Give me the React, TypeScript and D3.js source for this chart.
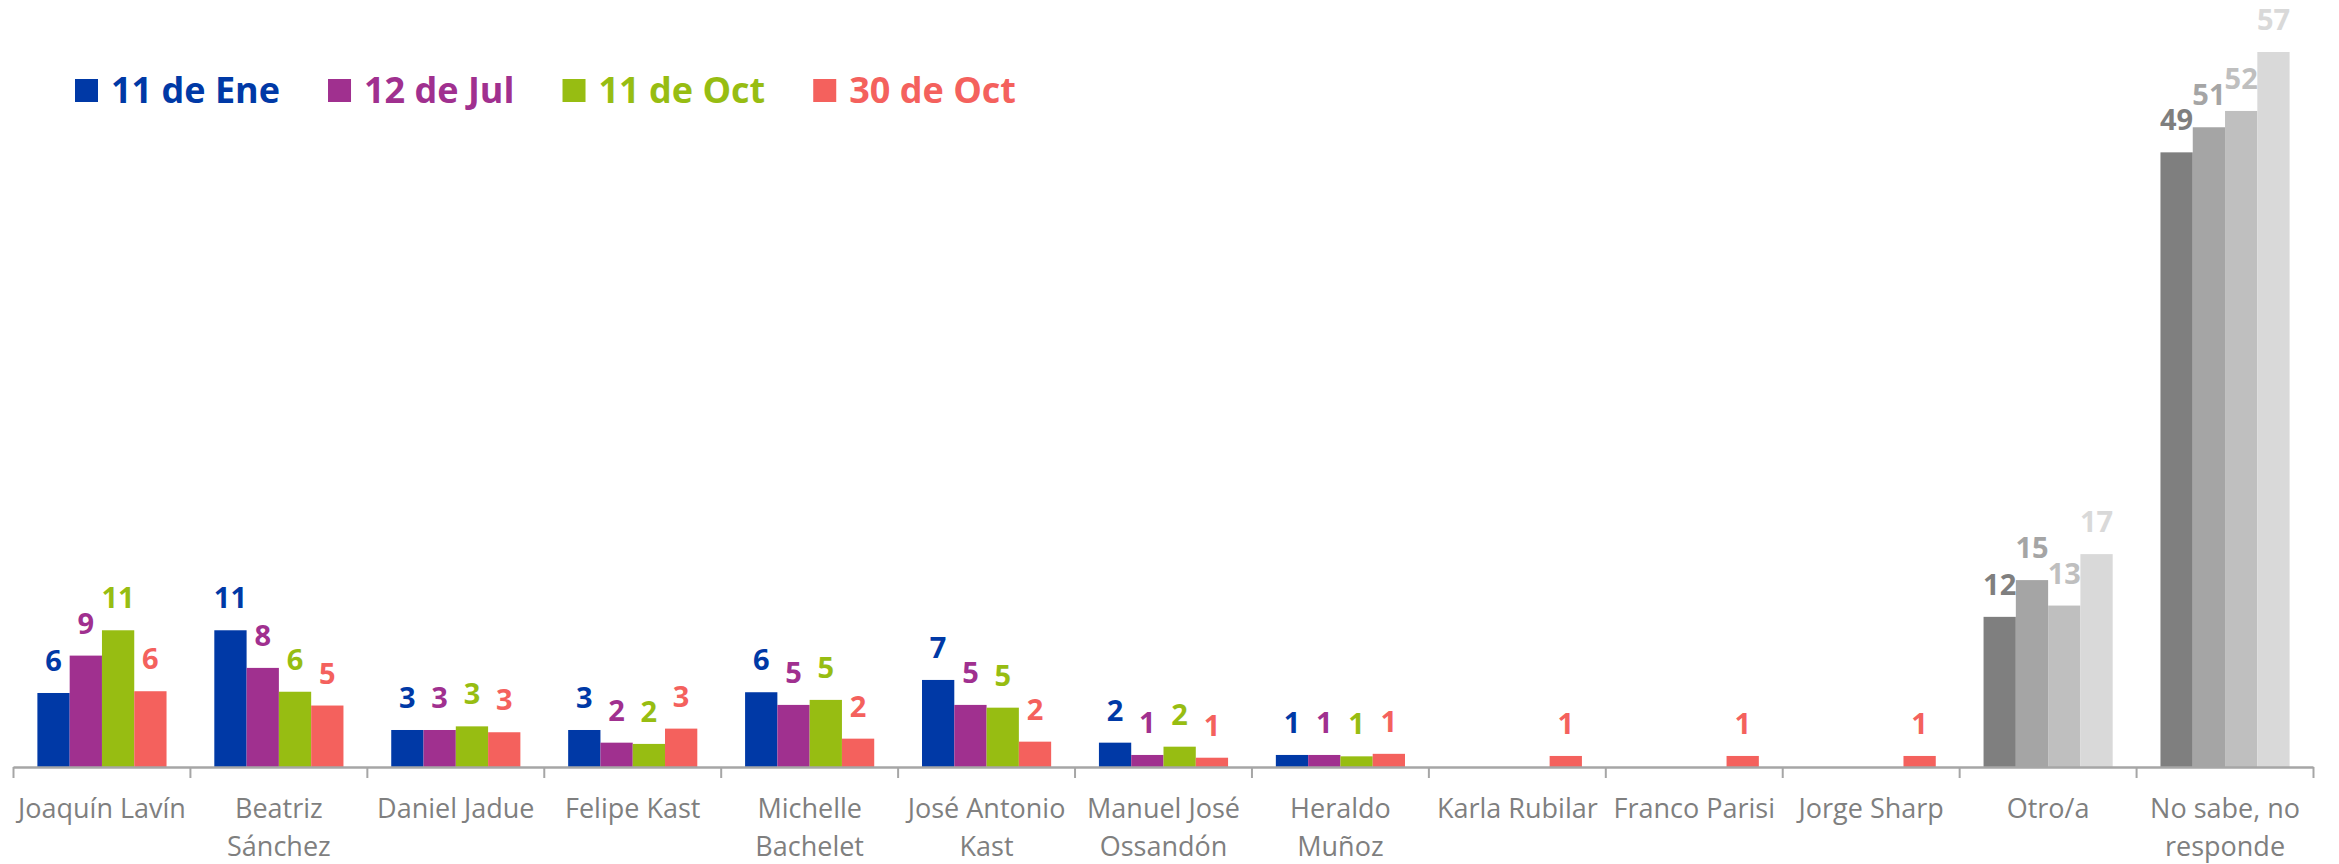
import React, { useEffect, useRef } from "react";
import * as d3 from "d3";

const categories: string[] = [
  "Joaquín Lavín",
  "Beatriz\nSánchez",
  "Daniel Jadue",
  "Felipe Kast",
  "Michelle\nBachelet",
  "José Antonio\nKast",
  "Manuel José\nOssandón",
  "Heraldo\nMuñoz",
  "Karla Rubilar",
  "Franco Parisi",
  "Jorge Sharp",
  "Otro/a",
  "No sabe, no\nresponde",
];

const seriesNames: string[] = ["11 de Ene", "12 de Jul", "11 de Oct", "30 de Oct"];

const ene11: (number | null)[] = [5.9, 10.9, 2.95, 2.95, 5.96, 6.94, 1.94, 0.96, null, null, null, 11.97, 49.0];
const jul12: (number | null)[] = [8.88, 7.9, 2.95, 1.94, 4.95, 4.95, 0.96, 0.96, null, null, null, 14.9, 51.0];
const oct11: (number | null)[] = [10.9, 6.0, 3.24, 1.84, 5.35, 4.73, 1.62, 0.85, null, null, null, 12.87, 52.3];
const oct30: (number | null)[] = [6.04, 4.9, 2.77, 3.06, 2.26, 2.02, 0.74, 1.05, 0.88, 0.88, 0.88, 16.97, 57.0];

const seriesValues = [ene11, jul12, oct11, oct30];
const seriesColors = ["#0039A6", "#A0308F", "#97BD12", "#F4615D"];
const neutralColors = ["#7F7F7F", "#A5A5A5", "#BFBFBF", "#D9D9D9"];
const neutralCategories = ["Otro/a", "No sabe, no\nresponde"];

export default function App() {
  const ref = useRef<SVGSVGElement | null>(null);

  useEffect(() => {
    const svg = d3.select(ref.current);
    svg.selectAll("*").remove();

    const W = 2339;
    const baseY = 767;
    const x0 = d3.scaleBand<string>().domain(categories).range([13.5, 2313.5]).paddingInner(0).paddingOuter(0);
    const x1 = d3
      .scaleBand<string>()
      .domain(seriesNames)
      .range([0, x0.bandwidth()])
      .paddingInner(0)
      .paddingOuter(0.74);
    const y = d3.scaleLinear().domain([0, 57]).range([baseY, 52]);
    const fmt = d3.format(".0f");

    const colorFor = (cat: string, si: number) =>
      neutralCategories.includes(cat) ? neutralColors[si] : seriesColors[si];

    // bars
    const barData: { cat: string; si: number; v: number }[] = [];
    categories.forEach((cat, ci) => {
      seriesValues.forEach((arr, si) => {
        const v = arr[ci];
        if (v !== null && v !== undefined) barData.push({ cat, si, v });
      });
    });

    svg
      .append("g")
      .selectAll("rect")
      .data(barData)
      .join("rect")
      .attr("x", (d) => (x0(d.cat) as number) + (x1(seriesNames[d.si]) as number))
      .attr("y", (d) => y(d.v))
      .attr("width", x1.bandwidth())
      .attr("height", (d) => baseY - y(d.v))
      .attr("fill", (d) => colorFor(d.cat, d.si));

    // value labels
    svg
      .append("g")
      .selectAll("text")
      .data(barData)
      .join("text")
      .attr("x", (d) => (x0(d.cat) as number) + (x1(seriesNames[d.si]) as number) + x1.bandwidth() / 2)
      .attr("y", (d) => y(d.v) - 22)
      .attr("text-anchor", "middle")
      .attr("font-family", "'Open Sans', sans-serif")
      .attr("font-weight", 700)
      .attr("font-size", 29)
      .attr("fill", (d) => colorFor(d.cat, d.si))
      .text((d) => fmt(d.v));

    // axis
    const axisG = svg.append("g");
    axisG
      .append("line")
      .attr("x1", 13.5)
      .attr("x2", 2313.5)
      .attr("y1", baseY + 0.5)
      .attr("y2", baseY + 0.5)
      .attr("stroke", "#A6A6A6")
      .attr("stroke-width", 2.5);
    const tickXs = categories.map((c) => x0(c) as number).concat([x0.range()[1]]);
    axisG
      .selectAll("line.tick")
      .data(tickXs)
      .join("line")
      .attr("class", "tick")
      .attr("x1", (d) => d)
      .attr("x2", (d) => d)
      .attr("y1", baseY)
      .attr("y2", baseY + 11)
      .attr("stroke", "#A6A6A6")
      .attr("stroke-width", 2);

    // category labels
    const labG = svg.append("g");
    categories.forEach((cat) => {
      const lines = cat.split("\n");
      const t = labG
        .append("text")
        .attr("text-anchor", "middle")
        .attr("font-family", "'Open Sans', sans-serif")
        .attr("font-size", 27)
        .attr("fill", "#7F7F7F");
      lines.forEach((ln, i) => {
        t.append("tspan")
          .attr("x", (x0(cat) as number) + x0.bandwidth() / 2)
          .attr("y", 818 + i * 38)
          .text(ln);
      });
    });

    // legend
    const legG = svg.append("g");
    let lx = 75;
    seriesNames.forEach((name, i) => {
      legG
        .append("rect")
        .attr("x", lx)
        .attr("y", 79)
        .attr("width", 23)
        .attr("height", 23)
        .attr("fill", seriesColors[i]);
      const t = legG
        .append("text")
        .attr("x", lx + 36)
        .attr("y", 102.5)
        .attr("font-family", "'Open Sans', sans-serif")
        .attr("font-weight", 700)
        .attr("font-size", 36)
        .attr("fill", seriesColors[i])
        .text(name);
      const w = (t.node() as SVGTextElement).getComputedTextLength();
      lx = lx + 36 + w + 48;
    });

    svg.attr("width", W);
  }, []);

  return (
    <svg
      ref={ref}
      width={2339}
      height={864}
      style={{ position: "absolute", left: 0, top: 0, background: "#ffffff" }}
    />
  );
}
